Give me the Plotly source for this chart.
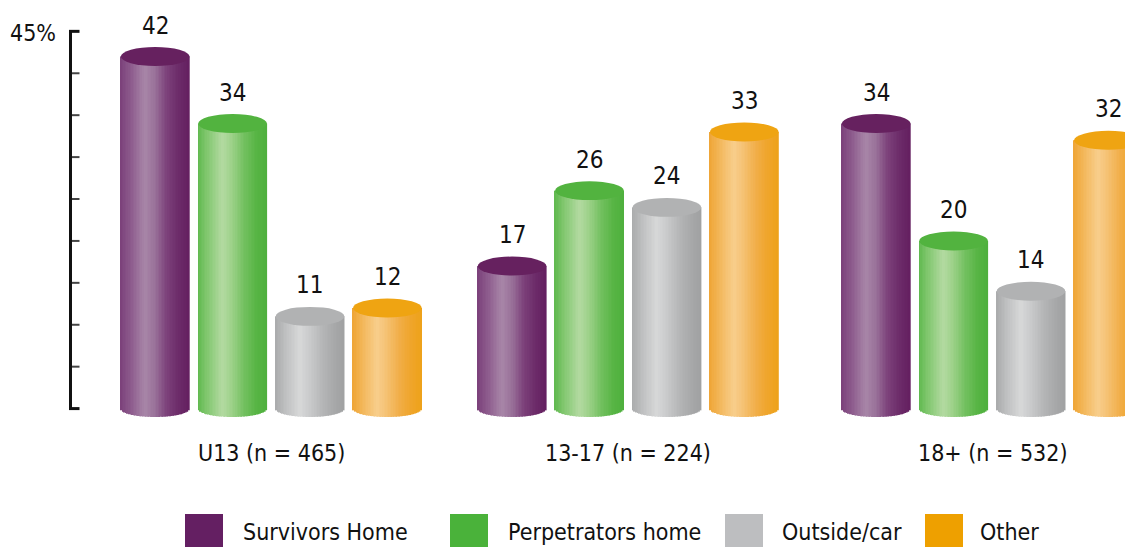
import numpy as np
import plotly.graph_objects as go

# ---------------- data ----------------
categories = ["U13 (n = 465)", "13-17 (n = 224)", "18+ (n = 532)"]
series_names = ["Survivors Home", "Perpetrators home", "Outside/car", "Other"]
survivors_home = [42, 17, 34]
perpetrators_home = [34, 26, 20]
outside_car = [11, 24, 14]
other = [12, 33, 32]
y_ticks = [0, 5, 10, 15, 20, 25, 30, 35, 40, 45]
y_top_label = "45%"

series_values = [survivors_home, perpetrators_home, outside_car, other]

# ---------------- layout / style ----------------
OFF = 8  # default page body margin
FIG_W, FIG_H = 1133, 547 - OFF
ML, MR, MT, MB = 60 - OFF, 0, 28 - OFF, 125
PW, PH = FIG_W - ML - MR, FIG_H - MT - MB
PX_PER_UNIT = 360.5
X_MIN = -0.5861
X_RANGE = [X_MIN, X_MIN + PW / PX_PER_UNIT]
Y_RANGE = [-1.6, 45.4]
GROUP_CENTERS = [0.0, 0.99, 2.0]
PITCH = 0.2147
BAR_W = 0.1906
RY_TOP = 1.13
RY_BOT = 1.0
N_STRIPS = 44
FONT = "DejaVu Sans Condensed, Liberation Sans, Arial, sans-serif"

TOP_COLORS = ["#66215f", "#52b33f", "#b1b2b3", "#efa412"]
LEGEND_COLORS = ["#641f62", "#4ab23a", "#bdbec0", "#eea000"]
GRADIENTS = [
    [(0.0, "#7b407a"), (0.15, "#8c5a8c"), (0.36, "#a886a8"), (0.5, "#9a729a"),
     (0.68, "#7c417a"), (0.85, "#6c2b69"), (1.0, "#641f60")],
    [(0.0, "#5fb94e"), (0.15, "#85c872"), (0.36, "#b3daa1"), (0.5, "#9dd189"),
     (0.68, "#72c05f"), (0.85, "#58b545"), (1.0, "#4eb03d")],
    [(0.0, "#a9aaab"), (0.15, "#bebfc0"), (0.36, "#d7d8d8"), (0.5, "#cacbcc"),
     (0.68, "#b6b7b8"), (0.85, "#a8a9aa"), (1.0, "#a0a1a2")],
    [(0.0, "#efa535"), (0.15, "#f3b75a"), (0.36, "#f8ce8c"), (0.5, "#f5c172"),
     (0.68, "#f1ae48"), (0.85, "#efa52b"), (1.0, "#eea21a")],
]


def hex2rgb(h):
    h = h.lstrip("#")
    return np.array([int(h[i:i + 2], 16) for i in (0, 2, 4)], dtype=float)


def grad_color(stops, u):
    for (u0, c0), (u1, c1) in zip(stops[:-1], stops[1:]):
        if u0 <= u <= u1:
            t = (u - u0) / (u1 - u0)
            c = hex2rgb(c0) * (1 - t) + hex2rgb(c1) * t
            return "rgb(%d,%d,%d)" % tuple(np.round(c))
    c = hex2rgb(stops[-1][1])
    return "rgb(%d,%d,%d)" % tuple(c)


def px_x(px):  # page pixel -> x data
    return X_RANGE[0] + (px - OFF - ML) / PX_PER_UNIT


def paper_x(px):
    return (px - OFF - ML) / PW


def paper_y(py):
    return (FIG_H - MB - (py - OFF)) / PH


fig = go.Figure()
shapes = []
annotations = []

xs, hs, bases, cols = [], [], [], []
for s, vals in enumerate(series_values):
    for g, v in enumerate(vals):
        cx = GROUP_CENTERS[g] + (s - 1.5) * PITCH
        for i in range(N_STRIPS):
            u = (i + 0.5) / N_STRIPS
            dx = (u - 0.5) * BAR_W
            base = -RY_BOT * np.sqrt(max(0.0, 1 - (2 * dx / BAR_W) ** 2))
            xs.append(cx + dx)
            bases.append(base)
            hs.append(v - base)
            cols.append(grad_color(GRADIENTS[s], u))
        # top ellipse
        shapes.append(dict(type="circle", xref="x", yref="y",
                           x0=cx - BAR_W / 2, x1=cx + BAR_W / 2,
                           y0=v - RY_TOP, y1=v + RY_TOP,
                           fillcolor=TOP_COLORS[s], line=dict(width=0)))
        annotations.append(dict(x=cx, y=v, xref="x", yref="y", text=str(v),
                                showarrow=False, yanchor="middle", yshift=31,
                                font=dict(size=24, color="#111111", family=FONT)))

fig.add_trace(go.Bar(x=xs, y=hs, base=bases, width=BAR_W / N_STRIPS * 1.2,
                     marker=dict(color=cols, line=dict(width=0)),
                     showlegend=False, hoverinfo="skip"))

# y axis line and ticks
shapes.append(dict(type="line", xref="x", yref="y", x0=px_x(70.5), x1=px_x(70.5),
                   y0=y_ticks[0], y1=y_ticks[-1], line=dict(color="#111111", width=3)))
for t in y_ticks:
    end = t in (y_ticks[0], y_ticks[-1])
    shapes.append(dict(type="line", xref="x", yref="y",
                       x0=px_x(69 if end else 72), x1=px_x(79.5), y0=t, y1=t,
                       line=dict(color="#111111" if end else "#444444", width=3 if end else 2)))
annotations.append(dict(x=paper_x(58), y=y_ticks[-1], xref="paper", yref="y",
                        text=y_top_label, showarrow=False, xanchor="right",
                        yanchor="middle", yshift=-2,
                        font=dict(size=23, color="#111111", family=FONT)))

# category labels
for g, c in enumerate(categories):
    annotations.append(dict(x=GROUP_CENTERS[g], y=0, xref="x", yref="y", text=c,
                            showarrow=False, yanchor="middle", yshift=-44.5,
                            font=dict(size=23, color="#111111", family=FONT)))

# manual legend
LEG_SQ_X = [185, 450, 725, 925]
LEG_TX_X = [241, 506, 780, 978]
for s, name in enumerate(series_names):
    shapes.append(dict(type="rect", xref="paper", yref="paper",
                       x0=paper_x(LEG_SQ_X[s]), x1=paper_x(LEG_SQ_X[s] + 38),
                       y0=paper_y(514), y1=paper_y(547),
                       fillcolor=LEGEND_COLORS[s], line=dict(width=0)))
    annotations.append(dict(x=paper_x(LEG_TX_X[s]), y=paper_y(532), xref="paper",
                            yref="paper", text=name, showarrow=False,
                            xanchor="left", yanchor="middle",
                            font=dict(size=23, color="#111111", family=FONT)))

fig.update_layout(
    width=FIG_W, height=FIG_H,
    margin=dict(l=ML, r=MR, t=MT, b=MB, pad=0),
    paper_bgcolor="white", plot_bgcolor="white",
    barmode="overlay",
    xaxis=dict(range=X_RANGE, visible=False, fixedrange=True),
    yaxis=dict(range=Y_RANGE, visible=False, fixedrange=True),
    shapes=shapes, annotations=annotations,
    showlegend=False,
)

fig.write_html("out.html")
